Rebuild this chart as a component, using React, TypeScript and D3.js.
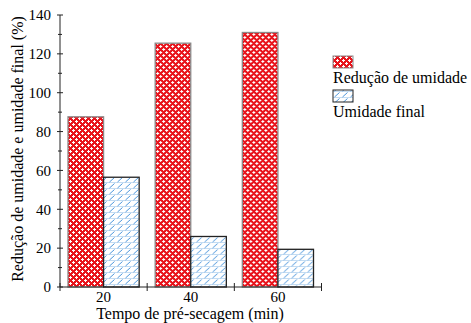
import React, { useEffect, useRef } from 'react';
import * as d3 from 'd3';

const categories = ['20', '40', '60'];
const reducao = [87.6, 125.5, 131];
const umidadeFinal = [56.5, 26, 19.4];
const seriesNames = ['Redução de umidade', 'Umidade final'];
const yTicks = [0, 20, 40, 60, 80, 100, 120, 140];

export default function App() {
  const svgRef = useRef<SVGSVGElement>(null);

  useEffect(() => {
    if (!svgRef.current) return;
    const root = d3.select(svgRef.current);
    root.selectAll('*').remove();

    const font = 'Liberation Serif, Times New Roman, serif';
    const margin = { top: 15, left: 60 };
    const chartWidth = 261.5;
    const chartHeight = 272;

    const defs = root.append('defs');
    // red crosshatch pattern: red ground with white plus marks
    const pr = defs
      .append('pattern')
      .attr('id', 'redPat')
      .attr('patternUnits', 'userSpaceOnUse')
      .attr('width', 6)
      .attr('height', 6);
    pr.append('rect').attr('width', 6).attr('height', 6).attr('fill', '#e8141c');
    const plus = (cx: number, cy: number) => {
      pr.append('rect').attr('x', cx - 1.5).attr('y', cy - 0.5).attr('width', 3).attr('height', 1).attr('fill', '#fff');
      pr.append('rect').attr('x', cx - 0.5).attr('y', cy - 1.5).attr('width', 1).attr('height', 3).attr('fill', '#fff');
    };
    plus(1.5, 1.5);
    plus(4.5, 4.5);
    plus(4.5, -1.5);
    plus(-1.5, 4.5);
    plus(7.5, 4.5);
    plus(4.5, 7.5);

    // blue diagonal pattern
    const pb = defs
      .append('pattern')
      .attr('id', 'bluePat')
      .attr('patternUnits', 'userSpaceOnUse')
      .attr('width', 8)
      .attr('height', 6);
    pb.append('rect').attr('width', 8).attr('height', 6).attr('fill', '#fff');
    pb.append('line').attr('x1', 0).attr('y1', 5.5).attr('x2', 8).attr('y2', 5.5)
      .attr('stroke', '#c4dcf2').attr('stroke-width', 1);
    pb.append('line').attr('x1', 1.5).attr('y1', 5).attr('x2', 6.5).attr('y2', 0.5)
      .attr('stroke', '#4d97dc').attr('stroke-width', 1);

    const g = root.append('g').attr('transform', `translate(${margin.left},${margin.top})`);

    const x0 = d3.scaleBand().domain(categories).range([0, chartWidth]).paddingInner(0).paddingOuter(0);
    const x1 = d3.scaleBand().domain(seriesNames).range([8, x0.bandwidth() - 8]).padding(0);
    const y = d3.scaleLinear().domain([0, 140]).range([chartHeight, 0]);

    const rows = categories.map((c, i) => ({ c, vals: [reducao[i], umidadeFinal[i]] }));

    const grp = g.selectAll('.grp').data(rows).enter().append('g')
      .attr('transform', d => `translate(${x0(d.c)},0)`);
    grp.selectAll('rect').data(d => d.vals.map((v, k) => ({ v, k }))).enter().append('rect')
      .attr('x', d => x1(seriesNames[d.k])!)
      .attr('y', d => y(d.v))
      .attr('width', x1.bandwidth())
      .attr('height', d => chartHeight - y(d.v))
      .attr('fill', d => (d.k === 0 ? 'url(#redPat)' : 'url(#bluePat)'))
      .attr('stroke', d => (d.k === 0 ? '#8a8a8a' : '#222'))
      .attr('stroke-width', 1.3);

    // Y axis
    const yAxis = g.append('g');
    yAxis.append('line').attr('x1', 0).attr('x2', 0).attr('y1', 0).attr('y2', chartHeight)
      .attr('stroke', '#222').attr('stroke-width', 1);
    const minor = d3.range(10, 140, 20);
    yAxis.selectAll('.mj').data(yTicks).enter().append('line')
      .attr('x1', -3).attr('x2', 3).attr('y1', d => y(d)).attr('y2', d => y(d))
      .attr('stroke', '#222');
    yAxis.selectAll('.mn').data(minor).enter().append('line')
      .attr('x1', -2).attr('x2', 2).attr('y1', d => y(d)).attr('y2', d => y(d))
      .attr('stroke', '#222');
    yAxis.selectAll('text').data(yTicks).enter().append('text')
      .attr('x', -9).attr('y', d => y(d)).attr('dy', '0.35em')
      .attr('text-anchor', 'end')
      .style('font-family', font).style('font-size', '15px')
      .text(d => d);

    // X axis
    const xAxis = g.append('g').attr('transform', `translate(0,${chartHeight})`);
    xAxis.append('line').attr('x1', 0).attr('x2', chartWidth).attr('stroke', '#222');
    const bounds = [0, ...categories.map(c => x0(c)! + x0.bandwidth())];
    xAxis.selectAll('.tk').data(bounds).enter().append('line')
      .attr('x1', d => d).attr('x2', d => d).attr('y1', -4).attr('y2', 4)
      .attr('stroke', '#222');
    xAxis.selectAll('text').data(categories).enter().append('text')
      .attr('x', d => x0(d)! + x0.bandwidth() / 2).attr('y', 15)
      .attr('text-anchor', 'middle')
      .style('font-family', font).style('font-size', '15px')
      .text(d => d);

    g.append('text')
      .attr('x', 130).attr('y', chartHeight + 32)
      .attr('text-anchor', 'middle')
      .style('font-family', font).style('font-size', '16px')
      .text('Tempo de pré-secagem (min)');

    g.append('text')
      .attr('transform', `translate(${-37},${chartHeight / 2 - 2}) rotate(-90)`)
      .attr('text-anchor', 'middle')
      .style('font-family', font).style('font-size', '16px')
      .text('Redução de umidade e umidade final (%)');

    // Legend
    const lg = root.append('g').attr('transform', 'translate(333,56)');
    seriesNames.forEach((name, i) => {
      lg.append('rect')
        .attr('x', 0).attr('y', i * 34).attr('width', 20).attr('height', 12)
        .attr('fill', i === 0 ? 'url(#redPat)' : 'url(#bluePat)')
        .attr('stroke', i === 0 ? '#8a8a8a' : '#222').attr('stroke-width', 1);
      lg.append('text')
        .attr('x', 0).attr('y', i * 34 + 27)
        .style('font-family', font).style('font-size', '16px')
        .text(name);
    });
  }, []);

  return (
    <svg
      ref={svgRef}
      width={471}
      height={323}
      style={{ display: 'block', position: 'absolute', left: 0, top: 0 }}
    />
  );
}
